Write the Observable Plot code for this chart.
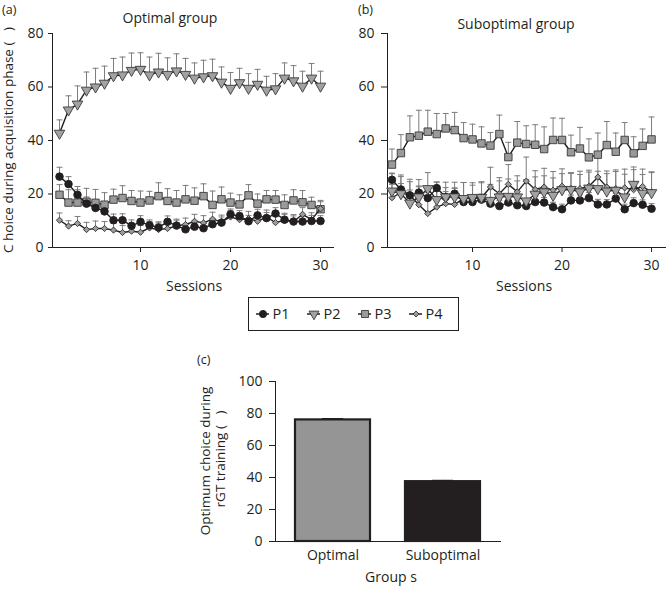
<!DOCTYPE html>
<html>
<head>
<meta charset="utf-8">
<script src="https://cdn.jsdelivr.net/npm/d3@7"></script>
<script src="https://cdn.jsdelivr.net/npm/@observablehq/plot@0.6"></script>
<style>
  html, body { margin: 0; padding: 0; background: #fff; }
  #wrap { position: relative; width: 666px; height: 591px; overflow: hidden; font-family: "Open Sans", sans-serif; color: #231f20; }
  #wrap > svg, #wrap > div { position: absolute; }
</style>
</head>
<body>
<div id="wrap"></div>
<script>
// ---------- data ----------
const sessions = d3.range(1, 31);
const seriesNames = ["P1", "P2", "P3", "P4"];

// (a) Optimal group
const optP1 = [26.5,23.7,19.7,16.4,14.8,13.5,10.2,10.2,8.1,9.6,8.3,7.5,9.6,8.2,6.8,7.8,7.2,8.7,9.3,12.4,11.7,9.8,12.0,11.0,12.7,10.4,9.7,9.7,9.9,9.9];
const optP1Err = [3.5,2.8,3.1,2.5,2.5,2.4,2.3,2.4,2.2,2.3,2.0,2.1,2.2,2.0,2.0,2.1,2.0,2.2,2.1,2.0,2.1,2.2,2.3,2.1,2.2,2.0,2.1,2.0,2.1,2.0];
const optP2 = [42.7,51.4,53.6,58.8,60.0,61.4,64.2,64.5,66.2,66.6,64.5,65.6,64.7,66.0,64.7,63.3,63.8,64.2,61.8,59.5,61.6,59.5,61.0,58.8,59.3,63.3,62.3,60.3,63.3,60.3];
const optP2Err = [5.0,5.3,6.8,6.8,7.0,6.4,6.5,6.7,6.5,6.2,6.7,7.0,6.2,6.4,6.0,5.7,6.2,6.2,5.7,5.9,5.4,5.5,5.6,5.2,5.7,5.7,5.7,5.6,5.5,5.6];
const optP3 = [19.7,16.8,16.8,17.1,16.7,16.0,17.9,18.5,17.4,16.8,17.6,19.2,17.4,16.8,18.0,17.5,19.2,15.9,18.0,16.8,16.1,19.5,16.4,18.0,17.9,15.9,17.6,16.9,15.9,14.3];
const optP3Err = [3.8,4.8,4.8,5.0,5.0,4.5,3.9,4.6,3.9,4.3,3.4,5.0,4.6,4.5,5.2,4.8,4.6,5.2,4.6,3.5,3.6,4.0,3.6,3.3,3.4,3.8,4.0,4.4,2.9,3.3];
const optP4 = [10.2,8.0,9.0,6.7,7.1,7.1,6.5,5.6,6.1,5.7,7.3,6.7,7.1,8.1,8.6,9.8,9.2,10.6,9.6,11.4,10.4,10.8,9.8,11.4,9.3,10.2,9.6,12.4,10.4,14.5];
const optP4Err = [2.7,2.0,2.6,2.7,2.8,2.6,2.5,2.6,2.4,2.5,2.4,2.5,2.6,2.5,2.4,2.6,2.7,2.6,2.5,2.5,2.6,2.7,2.5,2.6,2.5,2.6,2.7,2.5,2.6,2.6];

// (b) Suboptimal group
const subP1 = [25.3,21.7,19.5,20.5,18.5,22.2,18.9,20.1,17.0,17.0,17.9,16.4,15.5,16.8,15.8,15.5,17.0,16.8,15.1,14.3,17.6,17.6,18.5,16.1,16.1,18.3,14.3,16.6,16.0,14.5];
const subP1Err = [2.5,2.2,2.0,2.2,2.1,2.3,2.0,2.2,1.9,2.0,2.1,1.9,2.0,1.8,1.9,2.0,2.1,1.9,1.8,1.9,2.0,2.1,2.0,1.9,1.8,2.0,1.9,2.0,1.8,1.9];
const subP2 = [21.1,20.1,16.6,18.9,22.0,17.9,18.9,18.9,18.3,18.7,18.7,17.6,18.9,19.1,18.9,17.4,19.9,20.8,19.5,21.6,21.7,20.8,22.2,22.0,21.1,21.4,18.9,23.6,20.3,20.5];
const subP2Err = [6.5,7.0,8.0,6.5,6.0,6.5,5.5,5.5,6.0,5.5,5.5,6.0,6.0,6.5,6.0,8.0,6.5,6.0,6.5,6.0,6.0,6.5,6.0,6.5,6.5,7.0,8.5,6.5,7.0,7.5];
const subP3 = [31.0,35.3,41.2,41.8,43.3,42.4,44.5,43.9,40.9,40.4,38.9,38.1,42.4,33.8,39.2,38.7,38.4,36.8,40.2,40.2,35.6,37.0,33.7,34.7,38.3,35.8,40.2,35.2,38.0,40.4];
const subP3Err = [5.8,6.9,8.0,9.5,8.0,7.7,5.6,6.6,5.8,5.7,6.2,4.9,7.1,5.5,7.9,6.8,7.5,8.3,8.2,8.1,6.4,7.9,6.9,8.1,8.8,7.0,6.5,6.2,6.3,8.4];
const subP4 = [18.6,20.5,19.5,16.0,12.7,15.1,16.4,16.1,18.3,18.3,18.6,22.6,20.1,23.6,20.8,24.8,21.7,22.6,21.4,22.9,22.0,22.0,22.9,26.3,22.6,22.0,22.3,21.6,22.8,20.8];
const subP4Err = [5.0,6.0,6.0,7.0,6.0,6.0,6.0,6.0,6.0,5.0,6.0,7.4,6.0,7.4,6.0,9.0,7.0,7.0,7.0,6.5,6.0,6.5,6.0,8.0,6.0,7.0,7.0,7.5,6.5,7.5];

// (c) bars
const groups = ["Optimal", "Suboptimal"];
const groupValues = [76.0, 37.4];
const groupErr = [0.8, 0.8];

const xTicks = [10, 20, 30];
const yTicks = [0, 20, 40, 60, 80];
const barYTicks = [0, 20, 40, 60, 80, 100];

// ---------- styles ----------
const ink = "#231f20";
const triDown = {
  draw(ctx, size) {
    const a = Math.sqrt(4 * size / Math.sqrt(3));
    const h = a * Math.sqrt(3) / 2;
    ctx.moveTo(-a / 2, -h / 3);
    ctx.lineTo(a / 2, -h / 3);
    ctx.lineTo(0, 2 * h / 3);
    ctx.closePath();
  }
};
const seriesStyle = {
  P1: {symbol: "circle", r: 3.8, fill: ink, stroke: ink},
  P2: {symbol: triDown, r: 3.9, fill: "#a2a2a2", stroke: "#3a3a3a"},
  P3: {symbol: "square", r: 4.2, fill: "#9a9a9a", stroke: "#3a3a3a"},
  P4: {symbol: "diamond2", r: 2.8, fill: "#9c9c9c", stroke: "#2e2e2e"}
};
const errColor = "#7d7d7d";
const fontStyle = {fontFamily: "'Open Sans', sans-serif", fontSize: "14px", color: ink, background: "transparent", overflow: "visible"};

function toRows(vals, errs) {
  return sessions.map((s, i) => ({session: s, value: vals[i], err: errs[i], top: vals[i] + errs[i]}));
}

function linePanel(data, opts) {
  const marks = [];
  for (const name of seriesNames) {
    const d = data[name];
    marks.push(Plot.ruleX(d, {x: "session", y1: "value", y2: "top", stroke: errColor, strokeWidth: 1}));
    marks.push(Plot.link(d, {x1: r => r.session - 0.33, x2: r => r.session + 0.33, y1: "top", y2: "top", stroke: errColor, strokeWidth: 1}));
  }
  for (const name of opts.order) {
    const d = data[name];
    const st = seriesStyle[name];
    marks.push(Plot.line(d, {x: "session", y: "value", stroke: ink, strokeWidth: 1.4}));
    marks.push(Plot.dot(d, {x: "session", y: "value", symbol: st.symbol, r: st.r, fill: st.fill, stroke: st.stroke, strokeWidth: 0.9}));
  }
  return Plot.plot({
    width: opts.width, height: 300,
    marginLeft: opts.marginLeft, marginRight: opts.marginRight, marginTop: 33, marginBottom: 53,
    style: fontStyle,
    x: {domain: opts.xDomain, ticks: xTicks, tickSize: 5, tickPadding: 8, line: true, label: null},
    y: {domain: [0, 80], ticks: yTicks, tickSize: opts.yTickSize, tickPadding: opts.yTickPad, line: true, label: null},
    marks
  });
}

const wrap = document.getElementById("wrap");

// (a)
const optData = {P1: toRows(optP1, optP1Err), P2: toRows(optP2, optP2Err), P3: toRows(optP3, optP3Err), P4: toRows(optP4, optP4Err)};
const chartA = linePanel(optData, {width: 340, marginLeft: 52, marginRight: 7, xDomain: [0.22, 31.44], yTickSize: 4, yTickPad: 5, order: ["P3", "P2", "P4", "P1"]});
chartA.style.left = "0px"; chartA.style.top = "0px";
wrap.appendChild(chartA);

// (b)
const subData = {P1: toRows(subP1, subP1Err), P2: toRows(subP2, subP2Err), P3: toRows(subP3, subP3Err), P4: toRows(subP4, subP4Err)};
const chartB = linePanel(subData, {width: 333, marginLeft: 54, marginRight: 0, xDomain: [0.5, 31.67], yTickSize: 6, yTickPad: 7, order: ["P3", "P4", "P1", "P2"]});
chartB.style.left = "333px"; chartB.style.top = "0px";
wrap.appendChild(chartB);

// legend
const legendMarks = [Plot.frame({stroke: ink, strokeWidth: 1})];
for (const name of seriesNames) {
  const st = seriesStyle[name];
  legendMarks.push(Plot.tickY([name], {x: d => d, y: () => 0, stroke: ink, strokeWidth: 1.5}));
  legendMarks.push(Plot.dot([name], {x: d => d, y: () => 0, symbol: st.symbol, r: st.r * 0.95, fill: st.fill, stroke: st.stroke, strokeWidth: 0.9}));
  legendMarks.push(Plot.text([name], {x: d => d, y: () => 0, text: d => d, dx: 9.5, textAnchor: "start", fill: ink, fontSize: 14.5}));
}
const legend = Plot.plot({
  width: 212, height: 35, margin: 1,
  style: fontStyle,
  x: {type: "band", domain: seriesNames, range: [7.5, 176], paddingInner: 0.75, paddingOuter: 0, axis: null},
  y: {domain: [-1, 1], axis: null},
  marks: legendMarks
});
legend.style.left = "247px"; legend.style.top = "296px";
wrap.appendChild(legend);

// (c)
const barFill = {Optimal: "#959595", Suboptimal: ink};
const bars = groups.map((g, i) => ({group: g, value: groupValues[i], top: groupValues[i] + groupErr[i]}));
const chartC = Plot.plot({
  width: 340, height: 251,
  marginLeft: 95, marginRight: 20, marginTop: 41, marginBottom: 50,
  style: fontStyle,
  x: {domain: groups, paddingInner: 0.32, paddingOuter: 0.18, tickSize: 0, tickPadding: 9, line: true, label: null},
  y: {domain: [0, 100], ticks: barYTicks, tickSize: 6, tickPadding: 7, line: true, label: null},
  color: {type: "identity"},
  marks: [
    Plot.barY(bars, {x: "group", y: "value", fill: d => barFill[d.group], stroke: ink, strokeWidth: 2.2}),
    Plot.ruleX(bars, {x: "group", y1: "value", y2: "top", stroke: ink}),
    Plot.tickY(bars, {x: "group", y: "top", stroke: ink, strokeWidth: 1.2, insetLeft: 27, insetRight: 27})
  ]
});
chartC.style.left = "180px"; chartC.style.top = "340px";
wrap.appendChild(chartC);

// ---------- text overlay ----------
const texts = [
  {t: "(a)", x: 2, y: 14, a: "start", s: 12.5},
  {t: "Optimal group", x: 170, y: 23, a: "middle", s: 14},
  {t: "Sessions", x: 194, y: 291, a: "middle", s: 14},
  {t: "C hoice during acquisition phase (   )", x: 13, y: 140, a: "middle", s: 13.5, rot: true},
  {t: "(b)", x: 358, y: 14, a: "start", s: 12.5},
  {t: "Suboptimal group", x: 516, y: 29, a: "middle", s: 14},
  {t: "Sessions", x: 524, y: 291, a: "middle", s: 14},
  {t: "(c)", x: 197, y: 364, a: "start", s: 12.5},
  {t: "Optimum choice during", x: 210, y: 461, a: "middle", s: 13.5, rot: true},
  {t: "rGT training (   )", x: 224.5, y: 459, a: "middle", s: 13.5, rot: true},
  {t: "Group s", x: 391, y: 582, a: "middle", s: 14}
];
const overlay = d3.create("svg").attr("width", 666).attr("height", 591)
  .style("left", "0px").style("top", "0px").style("pointer-events", "none")
  .attr("font-family", "'Open Sans', sans-serif").attr("fill", ink);
for (const d of texts) {
  overlay.append("text")
    .attr("transform", d.rot ? `translate(${d.x},${d.y}) rotate(-90)` : `translate(${d.x},${d.y})`)
    .attr("text-anchor", d.a).attr("font-size", d.s)
    .style("white-space", "pre").attr("xml:space", "preserve")
    .text(d.t);
}
wrap.appendChild(overlay.node());
</script>
</body>
</html>
